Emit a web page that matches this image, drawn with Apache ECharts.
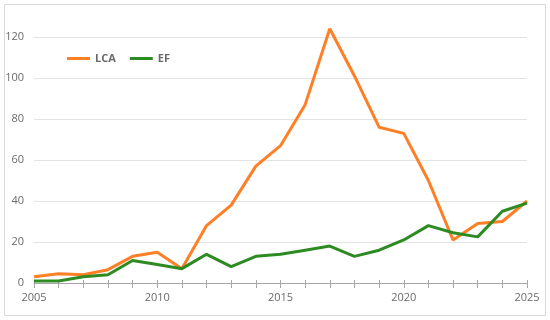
<!DOCTYPE html>
<html><head><meta charset="utf-8">
<script src="https://cdn.jsdelivr.net/npm/echarts@6/dist/echarts.min.js"></script>
<style>html,body{margin:0;padding:0;background:#fff}#c{width:550px;height:320px}</style>
</head><body><div id="c"></div>
<script>
const years = ['2005','2006','2007','2008','2009','2010','2011','2012','2013','2014','2015','2016','2017','2018','2019','2020','2021','2022','2023','2024','2025'];
const lca = [3,4.5,4,6.5,13,15,7,28,38,57,67,87,124,101,76,73,50,21,29,30,40];
const ef = [1,1,3,4,11,9,7,14,8,13,14,16,18,13,16,21,28,24.5,22.5,35,39];
const yTicks = {min:0, max:120, interval:20};

const chart = echarts.init(document.getElementById('c'));
const font = '"Open Sans", "Liberation Sans", sans-serif';
chart.setOption({
  animation:false,
  graphic:[{type:'rect',shape:{x:4.5,y:4.5,width:541,height:311},style:{fill:'none',stroke:'#d9d9d9',lineWidth:1},silent:true,z:-1}],
  grid:{left:34,right:23,top:37,bottom:37},
  legend:{left:62,top:48,itemWidth:23,itemHeight:3,itemGap:14,icon:'rect',
    textStyle:{color:'#6a6a6a',fontSize:11,fontWeight:'bold',fontFamily:font},
    data:['LCA','EF']},
  xAxis:[{type:'category',data:years,boundaryGap:false,
    axisLine:{lineStyle:{color:'#a6a6a6',width:1}},
    axisTick:{interval:0,length:5,lineStyle:{color:'#a6a6a6'}},
    axisLabel:{interval:4,color:'#6a6a6a',fontSize:11,fontFamily:font,margin:9},
    splitLine:{show:false}},
   {type:'category',data:years,boundaryGap:false,position:'bottom',gridIndex:0,
    axisLine:{show:false},
    axisTick:{interval:0,inside:true,length:3,lineStyle:{color:'#a6a6a6'}},
    axisLabel:{show:false},splitLine:{show:false}}],
  yAxis:{type:'value',min:yTicks.min,max:yTicks.max,interval:yTicks.interval,
    axisLine:{show:false},axisTick:{show:false},
    axisLabel:{color:'#6a6a6a',fontSize:11,fontFamily:font,margin:10},
    splitLine:{lineStyle:{color:'#e3e3e3',width:1}}},
  series:[
    {name:'LCA',type:'line',data:lca,symbol:'none',clip:false,lineStyle:{color:'#FF7F27',width:3},itemStyle:{color:'#FF7F27'},z:2},
    {name:'EF',type:'line',data:ef,symbol:'none',clip:false,lineStyle:{color:'#2E8B22',width:3},itemStyle:{color:'#2E8B22'},z:3}
  ]
});
</script></body></html>
